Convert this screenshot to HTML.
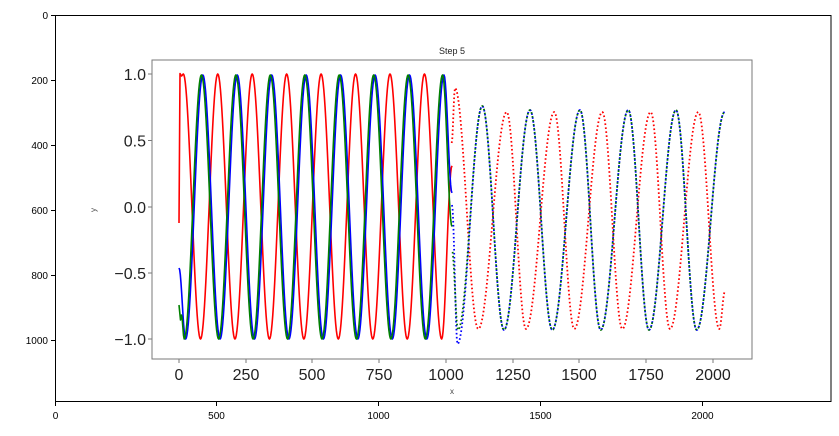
<!DOCTYPE html>
<html><head><meta charset="utf-8"><style>
html,body{margin:0;padding:0;background:#fff;}
svg{display:block;font-family:"Liberation Sans","DejaVu Sans",sans-serif;}
</style></head><body>
<svg id="s" width="839" height="436" viewBox="0 0 839 436" xmlns="http://www.w3.org/2000/svg">
<rect width="839" height="436" fill="#fff"/>
<rect x="152" y="60" width="600" height="299" fill="#fff" stroke="#7a7a7a" stroke-width="1"/>
<g id="series" fill="none" stroke-linejoin="round"></g>
<g stroke="#7a7a7a" stroke-width="1">
<line x1="148" y1="74" x2="152" y2="74"/><line x1="148" y1="140.5" x2="152" y2="140.5"/><line x1="148" y1="207" x2="152" y2="207"/><line x1="148" y1="273" x2="152" y2="273"/><line x1="148" y1="339" x2="152" y2="339"/>
<line x1="179" y1="359" x2="179" y2="363"/><line x1="246" y1="359" x2="246" y2="363"/><line x1="312" y1="359" x2="312" y2="363"/><line x1="379" y1="359" x2="379" y2="363"/><line x1="446" y1="359" x2="446" y2="363"/><line x1="513" y1="359" x2="513" y2="363"/><line x1="579" y1="359" x2="579" y2="363"/><line x1="646" y1="359" x2="646" y2="363"/><line x1="713" y1="359" x2="713" y2="363"/>
</g>
<g font-size="16" fill="#222" text-anchor="end">
<text x="146" y="80">1.0</text><text x="146" y="146.5">0.5</text><text x="146" y="213">0.0</text><text x="146" y="279">−0.5</text><text x="146" y="345">−1.0</text>
</g>
<g font-size="16" fill="#222" text-anchor="middle">
<text x="179" y="380">0</text><text x="246" y="380">250</text><text x="312" y="380">500</text><text x="379" y="380">750</text><text x="446" y="380">1000</text><text x="513" y="380">1250</text><text x="579" y="380">1500</text><text x="646" y="380">1750</text><text x="713" y="380">2000</text>
</g>
<text x="452" y="54" font-size="9" fill="#222" text-anchor="middle">Step 5</text>
<text x="452" y="394" font-size="8" fill="#444" text-anchor="middle">x</text>
<text x="96" y="210" font-size="8" fill="#444" text-anchor="middle" transform="rotate(-90 96 210)">y</text>
<rect x="55.5" y="15.5" width="775.5" height="386" fill="none" stroke="#000" stroke-width="1"/>
<g stroke="#000" stroke-width="1">
<line x1="51" y1="15.5" x2="55.5" y2="15.5"/><line x1="51" y1="80.5" x2="55.5" y2="80.5"/><line x1="51" y1="145.5" x2="55.5" y2="145.5"/><line x1="51" y1="210.5" x2="55.5" y2="210.5"/><line x1="51" y1="275.5" x2="55.5" y2="275.5"/><line x1="51" y1="340.5" x2="55.5" y2="340.5"/>
<line x1="55.5" y1="401.5" x2="55.5" y2="406"/><line x1="216.5" y1="401.5" x2="216.5" y2="406"/><line x1="378.5" y1="401.5" x2="378.5" y2="406"/><line x1="540.5" y1="401.5" x2="540.5" y2="406"/><line x1="702.5" y1="401.5" x2="702.5" y2="406"/>
</g>
<g font-size="10" fill="#000" text-anchor="end">
<text x="48" y="19">0</text><text x="48" y="84">200</text><text x="48" y="149">400</text><text x="48" y="214">600</text><text x="48" y="279">800</text><text x="48" y="344">1000</text>
</g>
<g font-size="10" fill="#000" text-anchor="middle">
<text x="55.5" y="419">0</text><text x="216.5" y="419">500</text><text x="378.5" y="419">1000</text><text x="540.5" y="419">1500</text><text x="702.5" y="419">2000</text>
</g>
</svg>
<script>
function path(pts){
  var d="M"+pts[0][0]+" "+pts[0][1];
  for(var i=1;i<pts.length;i++){
    var a=pts[i-1],b=pts[i];
    var n=Math.max(2,Math.round((b[0]-a[0])*1.5));
    for(var k=1;k<=n;k++){
      var t=k/n,f=(1-Math.cos(Math.PI*t))/2;
      d+=" L"+(a[0]+(b[0]-a[0])*t).toFixed(2)+" "+(a[1]+(b[1]-a[1])*f).toFixed(2);
    }
  }
  return d;
}
function periodic(start,first,P,end,yp,yt,firstIsPeak){
  var pts=start.slice();var x=first,pk=firstIsPeak;
  while(x<end){pts.push([x,pk?yp:yt]);x+=P/2;pk=!pk;}
  return pts;
}
function clipEnd(pts,xe){
  var out=[];for(var i=0;i<pts.length;i++){
    if(pts[i][0]<=xe){out.push(pts[i]);}
    else{var a=pts[i-1],b=pts[i],t=(xe-a[0])/(b[0]-a[0]),f=(1-Math.cos(Math.PI*t))/2;
      out.push([xe,a[1]+(b[1]-a[1])*f]);break;}
  }return out;
}
var P=34.45;
var red=clipEnd(periodic([[179,223],[180,73.5],[181.5,76]],183.3,P,470,74,339,true),452);
var green=clipEnd(periodic([[179,305],[180.5,320],[181.5,315]],184.2,P,470,75,339,false),452);
var blue=clipEnd(periodic([[179,268]],185.6,P,470,75,339,false),452);
var gb=[[482.3,106],[504,330],[530,110],[552.3,330],[580,110],[600.7,330],[628.3,110],[649,330],[676,110],[696.7,330],[724.7,112]];
var blueD=[[452,205],[457.5,344]].concat(gb);
var greenD=[[452,250],[458,330]].concat(gb);
var redD=[[451.7,143],[455,88],[478.3,329],[506.7,112],[526,329],[554.3,112],[574.3,329],[602.3,112],[622.3,329],[650.7,112],[670,329],[698.3,112],[719.3,329],[725,291]];
var g=document.getElementById("series");
function add(pts,col,w,dash,off){
  var p=document.createElementNS("http://www.w3.org/2000/svg","path");
  p.setAttribute("d",path(pts));p.setAttribute("stroke",col);p.setAttribute("stroke-width",w);
  if(dash){p.setAttribute("stroke-dasharray",dash);p.setAttribute("stroke-dashoffset",off||0);}
  g.appendChild(p);
}
add(red,"#ff0000",1.6);
add(blue,"#0000ff",1.6);
add(green,"#008000",1.6);
add(redD,"#ff0000",1.8,"1.6 2.4");
add(blueD,"#0000ff",1.8,"1.6 2.4");
add(greenD,"#007000",1.8,"1.6 2.4",2);
</script>
</body></html>
